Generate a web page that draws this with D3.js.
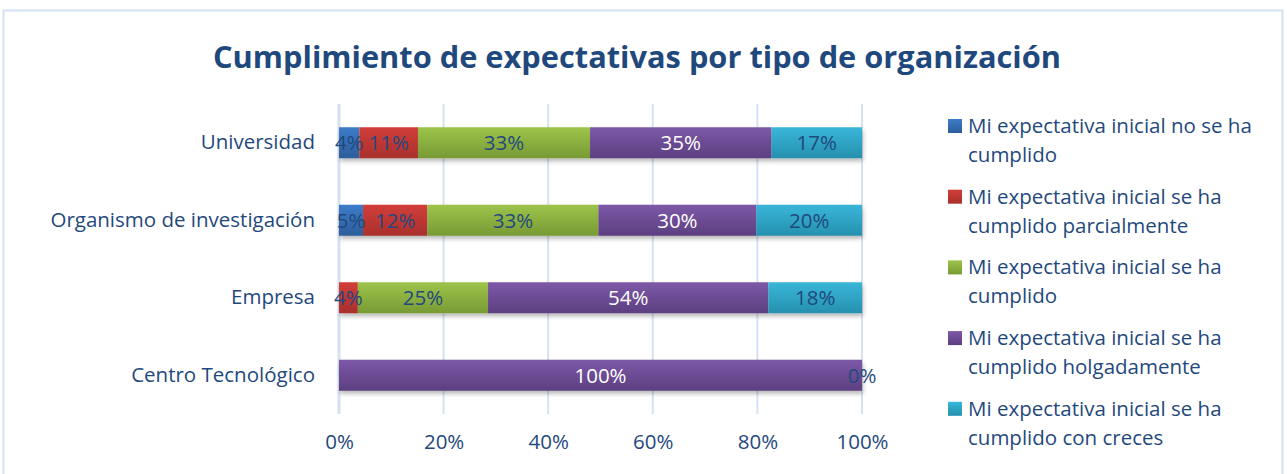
<!DOCTYPE html>
<html>
<head>
<meta charset="utf-8">
<script src="https://cdn.jsdelivr.net/npm/d3@7"></script>
<style>
  body { margin: 0; background: #fff; }
  svg { display: block; font-family: "Open Sans", "Noto Sans", sans-serif; }
</style>
</head>
<body>
<svg id="chart" width="1287" height="474"></svg>
<script>
// Data
const categories = ["Universidad", "Organismo de investigación", "Empresa", "Centro Tecnológico"];
const seriesNames = [
  ["Mi expectativa inicial no se ha", "cumplido"],
  ["Mi expectativa inicial se ha", "cumplido parcialmente"],
  ["Mi expectativa inicial se ha", "cumplido"],
  ["Mi expectativa inicial se ha", "cumplido holgadamente"],
  ["Mi expectativa inicial se ha", "cumplido con creces"]
];
// percentages per category, null = no value
const noCumplido      = [3.9, 4.6, null, null];
const parcialmente    = [11.2, 12.3, 3.6, null];
const cumplido        = [32.9, 32.7, 24.9, null];
const holgadamente    = [34.7, 30.2, 53.6, 100];
const conCreces       = [17.3, 20.2, 17.9, 0];
const xTicks = [0, 20, 40, 60, 80, 100];

const seriesValues = [noCumplido, parcialmente, cumplido, holgadamente, conCreces];
const colorsTop    = ["#3d7cc9", "#d23e3a", "#9dc44a", "#7d58a8", "#39b6d9"];
const colorsBottom = ["#2d5d9b", "#a8302c", "#789a35", "#5c3f80", "#2690ae"];
const labelColors  = ["#1f497d", "#1f497d", "#1f497d", "#ffffff", "#1f497d"];

const textColor = "#1f497d";
const fontSize = 20.5;
const svg = d3.select("#chart");

const margin = { top: 104, left: 339 };
const plotW = 862 - 339;
const plotH = 414 - 104;

// outer frame
svg.append("rect")
  .attr("x", 3.5).attr("y", 10.5)
  .attr("width", 1279).attr("height", 470)
  .attr("fill", "#fff")
  .attr("stroke", "#d5e1f1")
  .attr("stroke-width", 2);

// title
svg.append("text")
  .attr("x", 637).attr("y", 68)
  .attr("text-anchor", "middle")
  .attr("fill", textColor)
  .attr("font-weight", "bold")
  .attr("font-size", 31)
  .attr("textLength", 848)
  .attr("lengthAdjust", "spacingAndGlyphs")
  .text("Cumplimiento de expectativas por tipo de organización");

const defs = svg.append("defs");
seriesValues.forEach((s, i) => {
  const gr = defs.append("linearGradient")
    .attr("id", "grad" + i)
    .attr("x1", 0).attr("y1", 0).attr("x2", 0).attr("y2", 1);
  gr.append("stop").attr("offset", "0%").attr("stop-color", colorsTop[i]);
  gr.append("stop").attr("offset", "100%").attr("stop-color", colorsBottom[i]);
});
const sh = defs.append("filter").attr("id", "shadow")
  .attr("x", "-5%").attr("y", "-20%").attr("width", "110%").attr("height", "160%");
sh.append("feDropShadow")
  .attr("dx", 1).attr("dy", 3).attr("stdDeviation", 2)
  .attr("flood-color", "#000").attr("flood-opacity", 0.28);

const g = svg.append("g").attr("transform", `translate(${margin.left},${margin.top})`);

const x = d3.scaleLinear().domain([0, 100]).range([0, plotW]);
const y = d3.scaleBand().domain(categories).range([0, plotH]).paddingInner(0.6).paddingOuter(0.3);

// gridlines
g.append("g")
  .selectAll("line")
  .data(xTicks)
  .join("line")
  .attr("x1", d => x(d)).attr("x2", d => x(d))
  .attr("y1", 0).attr("y2", plotH)
  .attr("stroke", "#d6e2f2")
  .attr("stroke-width", d => d === 0 ? 3 : 2);

// x axis labels
const gx = g.append("g")
  .attr("transform", `translate(0,${plotH})`)
  .call(d3.axisBottom(x).tickValues(xTicks).tickSize(0).tickPadding(20).tickFormat(d => d + "%"));
gx.select(".domain").remove();
gx.selectAll("text")
  .attr("fill", textColor)
  .attr("font-size", fontSize)
  .attr("font-family", "Open Sans, sans-serif");

// y axis labels
const gy = g.append("g")
  .call(d3.axisLeft(y).tickSize(0).tickPadding(24));
gy.select(".domain").remove();
gy.selectAll("text")
  .attr("fill", textColor)
  .attr("font-size", fontSize)
  .attr("font-family", "Open Sans, sans-serif");

// stacked segments
const stackData = categories.map((c, ci) => {
  let acc = 0;
  return seriesValues.map((s, si) => {
    const v = s[ci];
    const x0 = acc;
    acc += v || 0;
    return { cat: c, si, v, x0, x1: acc };
  });
});

const rows = g.append("g").selectAll("g.row")
  .data(stackData)
  .join("g")
  .attr("class", "row")
  .attr("filter", "url(#shadow)");

rows.selectAll("rect")
  .data(d => d.filter(e => e.v))
  .join("rect")
  .attr("x", d => x(d.x0))
  .attr("y", d => y(d.cat))
  .attr("width", d => x(d.x1) - x(d.x0))
  .attr("height", y.bandwidth())
  .attr("fill", d => `url(#grad${d.si})`);

const labels = g.append("g").selectAll("g.lbl")
  .data(stackData)
  .join("g");

labels.selectAll("text")
  .data(d => d.filter(e => e.v !== null))
  .join("text")
  .attr("x", d => x((d.x0 + d.x1) / 2))
  .attr("y", d => y(d.cat) + y.bandwidth() / 2)
  .attr("dy", "0.36em")
  .attr("text-anchor", "middle")
  .attr("fill", d => labelColors[d.si])
  .attr("font-size", fontSize)
  .text(d => Math.round(d.v) + "%");

// legend
const legend = svg.append("g").attr("transform", "translate(948,119)");
const items = legend.selectAll("g")
  .data(seriesNames)
  .join("g")
  .attr("transform", (d, i) => `translate(0,${i * 70.7})`);
items.append("rect")
  .attr("width", 14).attr("height", 14)
  .attr("fill", (d, i) => `url(#grad${i})`);
items.append("text")
  .attr("x", 20)
  .attr("y", 14)
  .attr("fill", textColor)
  .attr("font-size", fontSize)
  .selectAll("tspan")
  .data(d => d)
  .join("tspan")
  .attr("x", 20)
  .attr("dy", (d, i) => i === 0 ? 0 : 29)
  .text(d => d);
</script>
</body>
</html>
